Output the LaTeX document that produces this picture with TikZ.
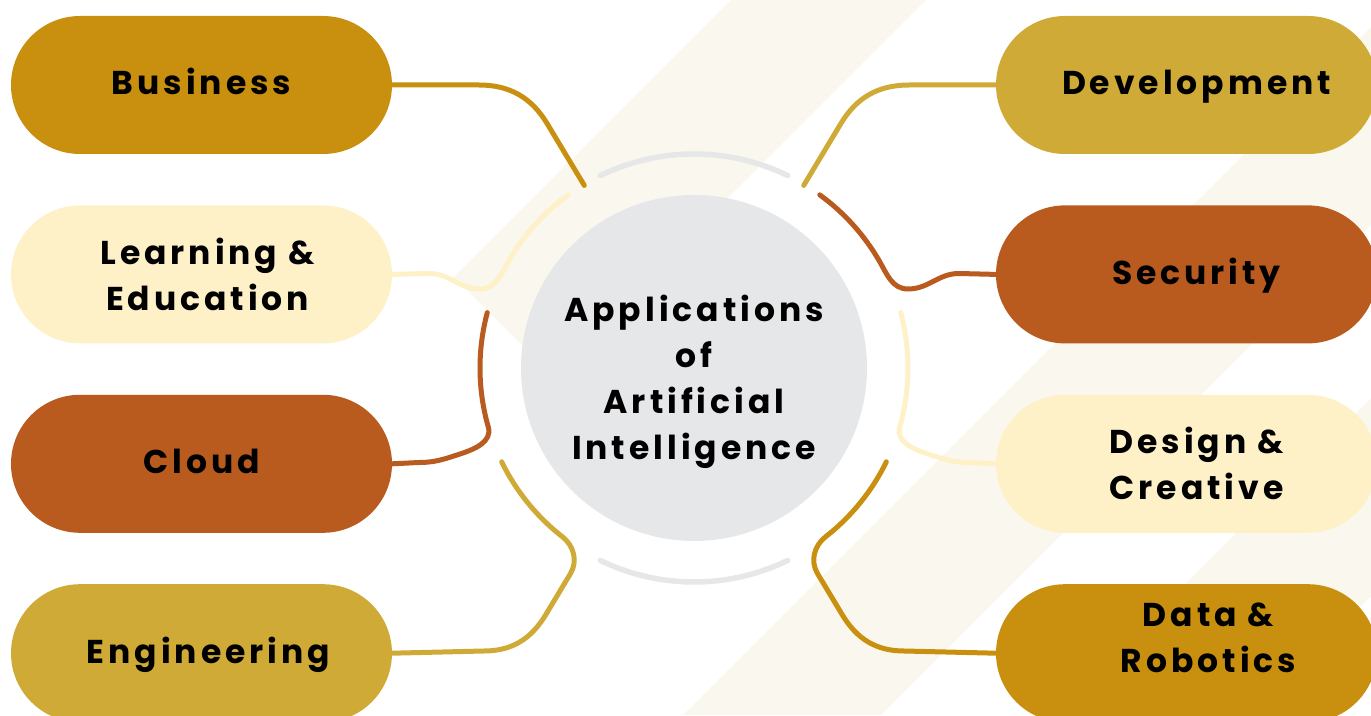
\documentclass[tikz,border=0pt]{standalone}
\usepackage{fontspec}
\setmainfont{Poppins}[LetterSpace=12]
\usepackage{tikz}
\usetikzlibrary{positioning}
\definecolor{aiGold}{HTML}{C8900E}
\definecolor{aiMustard}{HTML}{CFAA36}
\definecolor{aiRust}{HTML}{B95B1F}
\definecolor{aiCream}{HTML}{FEF1C8}
\definecolor{aiGray}{HTML}{E6E7E9}
\definecolor{aiStripe}{HTML}{FAF7EE}

\begin{document}
\begin{tikzpicture}[x=1pt,y=1pt,
  font=\bfseries\fontsize{33}{46}\selectfont,
  pill/.style={rectangle,rounded corners=69pt,minimum width=381pt,minimum height=138pt,inner sep=0pt,align=center},
  oneline/.style={text height=26pt,text depth=6pt},
  link/.style={line width=5pt,line cap=round},
  ring/.style={line width=5.5pt,line cap=round,aiGray}]
\useasboundingbox (-694,-347) rectangle (677,368);
\clip (-694,-347) rectangle (677,368);
% background stripes
\fill[aiStripe] (37,368) -- (232,368) -- (-142.5,-6.5) -- (-240,91) -- cycle;
\fill[aiStripe] (-11,-347) -- (704,368) -- (902,368) -- (187,-347) -- cycle;
\fill[aiStripe] (360,-347) -- (1075,368) -- (1273,368) -- (558,-347) -- cycle;
% hub
\node[circle,fill=aiGray,minimum size=346pt,inner sep=0pt] (ai) at (0,0) {};
\node[align=center] (aitext) at (0,-14) {Applications\\of\\Artificial\\Intelligence};
\draw[ring] (64:214pt) arc[start angle=64,end angle=116,radius=214pt];
\draw[ring] (244:214pt) arc[start angle=244,end angle=296,radius=214pt];
% left column
\node[pill,oneline,fill=aiGold] (bus) at (-492.5,283) {Business};
\node[pill,fill=aiCream,below=51pt of bus] (learn) {\hspace*{12pt}Learning \&\\\hspace*{12pt}Education};
\node[pill,oneline,fill=aiRust,below=51pt of learn] (cloud) {Cloud};
\node[pill,oneline,fill=aiMustard,below=51pt of cloud] (eng) {\hspace*{14pt}Engineering};
% right column
\node[pill,oneline,fill=aiMustard] (dev) at (492.5,283) {\hspace*{20pt}Development};
\node[pill,oneline,fill=aiRust,below=51pt of dev] (sec) {\hspace*{20pt}Security};
\node[pill,fill=aiCream,below=51pt of sec] (des) {\hspace*{20pt}Design \&\\\hspace*{20pt}Creative};
\node[pill,fill=aiGold,below=51pt of des] (data) {\hspace*{44pt}Data \&\\\hspace*{44pt}Robotics\\[-14pt]};
% links on the left
\draw[link,aiGold] (121:213pt) -- (121:285pt) to[out=121,in=0] (-215,283) -- (bus.east);
\draw[link,aiCream] (126:214pt) arc[start angle=126,end angle=150,radius=214pt]
  to[out=240,in=0] (-214,79) to[out=180,in=0] (-265,94.5) -- (learn.east);
\draw[link,aiRust] (165:214pt) arc[start angle=165,end angle=196,radius=214pt]
  to[out=286,in=18] (-234,-86) to[out=198,in=0] (-275,-94.5) -- (cloud.east);
\draw[link,aiMustard] (206:214pt) arc[start angle=206,end angle=232,radius=214pt]
  to[out=322,in=59] (239:240pt) -- (239:288pt) to[out=239,in=0] (-210,-283) -- (eng.east);
% links on the right
\draw[link,aiMustard] (59:213pt) -- (59:285pt) to[out=59,in=180] (215,283) -- (dev.west);
\draw[link,aiRust] (54:214pt) arc[start angle=54,end angle=30,radius=214pt]
  to[out=300,in=180] (214,79) to[out=0,in=180] (265,94.5) -- (sec.west);
\draw[link,aiCream] (15:214pt) arc[start angle=15,end angle=-16,radius=214pt]
  to[out=254,in=162] (234,-86) to[out=-18,in=180] (275,-94.5) -- (des.west);
\draw[link,aiGold] (-26:214pt) arc[start angle=-26,end angle=-52,radius=214pt]
  to[out=218,in=121] (-59:240pt) -- (-59:288pt) to[out=-59,in=180] (210,-283) -- (data.west);
\end{tikzpicture}
\end{document}
